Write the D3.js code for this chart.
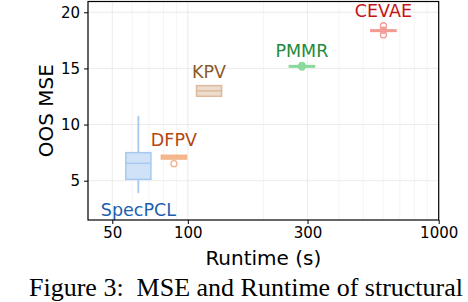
<!DOCTYPE html>
<html>
<head>
<meta charset="utf-8">
<title>MSE vs Runtime</title>
<style>
    body { margin: 0; background: white; }
    svg { display: block; }
    .tick text { font-family: "DejaVu Sans", sans-serif; font-size: 15px; fill: black; }
</style>
</head>
<body>
<svg width="468" height="302"></svg>
<script src="https://d3js.org/d3.v7.min.js"></script>
<script>
// methods and their measured runtime (s)
const methods = ["SpecPCL", "DFPV", "KPV", "PMMR", "CEVAE"];
const runtimes = [63.5, 88, 121.5, 285, 602];

// box plot stats of the out-of-sample MSE
const whiskerLo = [3.9, 6.93, 12.52, 15.15, 18.33];
const q1s = [5.12, 6.93, 12.52, 15.15, 18.33];
const medians = [6.55, 7.1, 13.0, 15.2, 18.38];
const q3s = [7.5, 7.26, 13.47, 15.25, 18.43];
const whiskerHi = [10.78, 7.26, 13.47, 15.25, 18.43];
const fliers = [[], [6.52], [], [15.12, 15.2, 15.28], [17.98, 18.4, 18.8]];

// where the name of each method sits (MSE units)
const labelMse = [1.85, 8.09, 14.13, 16.05, 19.62];

const xTicks = [50, 100, 300, 1000];
const yTicks = [5, 10, 15, 20];

const boxFill = ["#cfe2f8", "#f8c9a6", "#eddccd", "#a6e3b2", "#f6b0aa"];
const boxEdge = ["#a8c9ef", "#f3b285", "#dcba9b", "#89d99b", "#f29c95"];
const textCol = ["#1c5fb0", "#b5470f", "#8b5a2b", "#1e8b3a", "#c41414"];

const svg = d3.select("svg");
const mLeft = 88, mRight = 438.7, mTop = 1.5, mBottom = 220;

const x = d3.scaleLog().domain([40, 1000]).range([mLeft, mRight]);
const y = d3.scaleLinear().domain([1.5, 20.96]).range([mBottom, mTop]);

// grid lines: minor on x (log), major on both
const minor = [];
for (const dec of [10, 100]) for (let k = 2; k <= 9; k++) {
    const v = k * dec;
    if (v >= 40 && v <= 1000 && !xTicks.includes(v)) minor.push(v);
}
svg.append("g").selectAll("line").data(minor).join("line")
    .attr("x1", d => x(d)).attr("x2", d => x(d))
    .attr("y1", mTop).attr("y2", mBottom)
    .attr("stroke", "#f1f1f1").attr("stroke-width", 0.8);
svg.append("g").selectAll("line").data(xTicks).join("line")
    .attr("x1", d => x(d)).attr("x2", d => x(d))
    .attr("y1", mTop).attr("y2", mBottom)
    .attr("stroke", "#e6e6e6").attr("stroke-width", 0.8);
svg.append("g").selectAll("line").data(yTicks).join("line")
    .attr("x1", mLeft).attr("x2", mRight)
    .attr("y1", d => y(d)).attr("y2", d => y(d))
    .attr("stroke", "#e6e6e6").attr("stroke-width", 0.8);

// boxes, 0.1 decade wide
const half = Math.pow(10, 0.05);
const g = svg.append("g").selectAll("g").data(methods).join("g");
g.append("line")
    .attr("x1", (d, i) => x(runtimes[i])).attr("x2", (d, i) => x(runtimes[i]))
    .attr("y1", (d, i) => y(whiskerLo[i])).attr("y2", (d, i) => y(whiskerHi[i]))
    .attr("stroke", (d, i) => boxEdge[i]).attr("stroke-width", 1.8);
g.append("rect")
    .attr("x", (d, i) => x(runtimes[i] / half))
    .attr("width", (d, i) => x(runtimes[i] * half) - x(runtimes[i] / half))
    .attr("y", (d, i) => y(q3s[i]))
    .attr("height", (d, i) => Math.max(y(q1s[i]) - y(q3s[i]), 1.5))
    .attr("fill", (d, i) => boxFill[i])
    .attr("stroke", (d, i) => boxEdge[i]).attr("stroke-width", 1.5);
g.append("line")
    .attr("x1", (d, i) => x(runtimes[i] / half)).attr("x2", (d, i) => x(runtimes[i] * half))
    .attr("y1", (d, i) => y(medians[i])).attr("y2", (d, i) => y(medians[i]))
    .attr("stroke", (d, i) => boxEdge[i]).attr("stroke-width", 1.5);
g.each(function(d, i) {
    d3.select(this).selectAll("circle").data(fliers[i]).join("circle")
        .attr("cx", x(runtimes[i])).attr("cy", v => y(v)).attr("r", 3)
        .attr("fill", "none").attr("stroke", boxEdge[i]).attr("stroke-width", 1.3);
});
g.append("text")
    .attr("x", (d, i) => x(runtimes[i]))
    .attr("y", (d, i) => y(labelMse[i]))
    .attr("text-anchor", "middle")
    .attr("font-family", "DejaVu Sans, sans-serif").attr("font-size", 17.5)
    .attr("fill", (d, i) => textCol[i])
    .text(d => d);

// axes
const xAxis = svg.append("g").attr("transform", `translate(0,${mBottom})`)
    .call(d3.axisBottom(x).tickValues(xTicks).tickFormat(d3.format("d")).tickSize(4).tickPadding(3));
const yAxis = svg.append("g").attr("transform", `translate(${mLeft},0)`)
    .call(d3.axisLeft(y).tickValues(yTicks).tickSize(4).tickPadding(4));
for (const a of [xAxis, yAxis]) {
    a.select(".domain").remove();
    a.selectAll(".tick line").attr("stroke", "black").attr("stroke-width", 1);
}

// frame
svg.append("rect").attr("x", mLeft).attr("y", mTop)
    .attr("width", mRight - mLeft).attr("height", mBottom - mTop)
    .attr("fill", "none").attr("stroke", "black").attr("stroke-width", 1.2);

svg.append("text").attr("x", (mLeft + mRight) / 2).attr("y", 264.5)
    .attr("text-anchor", "middle")
    .attr("font-family", "DejaVu Sans, sans-serif").attr("font-size", 20)
    .text("Runtime (s)");
svg.append("text").attr("transform", `translate(52.5,${(mTop + mBottom) / 2}) rotate(-90)`)
    .attr("text-anchor", "middle")
    .attr("font-family", "DejaVu Sans, sans-serif").attr("font-size", 20)
    .text("OOS MSE");

// caption of the figure
svg.append("text").attr("x", 29).attr("y", 296)
    .attr("font-family", "Liberation Serif, serif").attr("font-size", 26)
    .attr("xml:space", "preserve")
    .text("Figure 3:  MSE and Runtime of structural");
</script>
</body>
</html>
